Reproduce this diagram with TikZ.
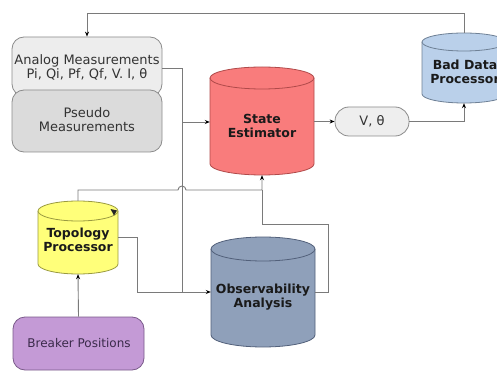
\documentclass[tikz,border=0pt]{standalone}
\usepackage{fontspec}
\setmainfont{DejaVu Sans}
\usetikzlibrary{arrows.meta,calc}
\definecolor{linec}{HTML}{7A7A7A}
\definecolor{boxb}{HTML}{8C8C8C}
\definecolor{anafill}{HTML}{EDEDED}
\definecolor{psefill}{HTML}{DBDBDB}
\definecolor{sefill}{HTML}{F97C7C}
\definecolor{seb}{HTML}{B04A4A}
\definecolor{bdfill}{HTML}{BAD0EA}
\definecolor{bdb}{HTML}{6F8196}
\definecolor{tpfill}{HTML}{FFFF7A}
\definecolor{tpb}{HTML}{9A9A40}
\definecolor{obfill}{HTML}{8FA0BA}
\definecolor{obb}{HTML}{52607A}
\definecolor{brfill}{HTML}{C49AD6}
\definecolor{brb}{HTML}{7A5A8A}
\definecolor{vtfill}{HTML}{EEEEEE}
\definecolor{textc}{HTML}{333333}
\definecolor{textb}{HTML}{1A1A1A}
\definecolor{brtext}{HTML}{3A2A4A}
% name, cx, top, bottom, half width, ry, fill, border
\newcommand\mycyl[8]{%
  \fill[#7] ({#2-#5},{-#3-#6}) -- ({#2-#5},{-#4+#6})
    arc[start angle=180,end angle=360,x radius=#5,y radius=#6]
    -- ({#2+#5},{-#3-#6}) -- cycle;
  \draw[#8,line width=0.8pt] ({#2-#5},{-#3-#6}) -- ({#2-#5},{-#4+#6})
    arc[start angle=180,end angle=360,x radius=#5,y radius=#6]
    -- ({#2+#5},{-#3-#6});
  \draw[#8,line width=0.8pt,fill=#7] (#2,{-#3-#6}) ellipse[x radius=#5,y radius=#6];
  \node[inner sep=0pt,minimum width={2*#5*1pt},minimum height={(#4-#3)*1pt}] (#1) at (#2,{-(#3+#4)/2}) {};
}
\begin{document}
\begin{tikzpicture}[x=1pt,y=1pt,
  conn/.style={draw=linec,line width=0.9pt},
  arr/.style={conn,-{Stealth[length=5pt,width=4pt,color=black]}},
  box/.style={draw=boxb,line width=0.8pt,rounded corners=12pt,inner sep=0pt},
  reg/.style={font=\fontsize{13}{14}\selectfont,text=textc,align=center},
  bld/.style={font=\fontsize{12.5}{13.5}\selectfont\bfseries,text=textb,align=center}]
\useasboundingbox (0,0) rectangle (497,-371);
\clip (0,0) rectangle (497,-371);
\fill[white] (0,0) rectangle (497,-371);

% boxes
\node[box,fill=anafill,minimum width=150pt,minimum height=59pt] (analog) at (87,-66.5) {};
\node[box,fill=psefill,minimum width=150pt,minimum height=62pt] (pseudo) at (87,-121) {};
\node[reg] (analogtxt) at (87,-67) {Analog Measurements\\Pi, Qi, Pf, Qf, V. I, θ};
\node[reg] (pseudotxt) at (87,-120) {Pseudo\\Measurements};
\node[box,draw=brb,fill=brfill,minimum width=131pt,minimum height=53pt] (br) at (78.5,-343.5) {};
\node[reg,text=brtext,font=\fontsize{12}{14}\selectfont] (brtxt) at (79,-343) {Breaker Positions};
\node[box,fill=vtfill,rounded corners=14pt,minimum width=74pt,minimum height=29pt] (vt) at (372,-121.5) {};
\node[reg] (vttxt) at (372,-121) {V, θ};

% cylinders
\mycyl{se}{262}{67}{175}{52}{11}{sefill}{seb}
\mycyl{bd}{464}{33}{103}{42}{9}{bdfill}{bdb}
\mycyl{tp}{78}{201}{274}{40}{10}{tpfill}{tpb}
\mycyl{ob}{263}{237}{347}{52}{12}{obfill}{obb}
\node[bld] (setxt) at (262,-126) {State\\Estimator};
\node[bld] (bdtxt) at (465,-72) {Bad Data\\Processor};
\node[bld] (tptxt) at (78,-240) {Topology\\Processor};
\node[bld] (obtxt) at (263,-297) {Observability\\Analysis};
\fill[black!85] (110.5,-209) -- (117,-210.5) -- (114,-215.5) -- cycle;

% coordinates
\coordinate (tr) at (464,-13);
\coordinate (j1) at (182,-68);
\coordinate (j2) at (182,-292);
\coordinate (j3) at (182,-122);
\coordinate (h) at (78,-190);
\coordinate (hl) at (178,-190);
\coordinate (o1) at (328,-292);
\coordinate (o2) at (328,-224);
\coordinate (t1) at (118,-237);
\coordinate (t2) at (137,-237);
\coordinate (t3) at (137,-292);

% connectors
\draw[arr] (bd.north) -- (bd.north |- tr) -| (analog.north);
\draw[conn] (analog.east |- j1) -- (j1) -- (j2);
\draw[arr] (j3) -- (se.west |- j3);
\draw[arr] (se.east |- vt.west) -- (vt.west);
\draw[arr] (vt.east) -| (bd.south);
\draw[arr] (tp.north) -- (h) -- (hl) arc[start angle=180,end angle=0,radius=4] -- (se.south |- h) -- (se.south);
\draw[conn] (ob.east |- o1) -- (o1) -- (o2) -- (se.south |- o2) -- (se.south |- h);
\draw[arr] (t1) -- (t2) -- (t3) -- (ob.west |- t3);
\draw[arr] (br.north) -- (tp.south);
\end{tikzpicture}
\end{document}
